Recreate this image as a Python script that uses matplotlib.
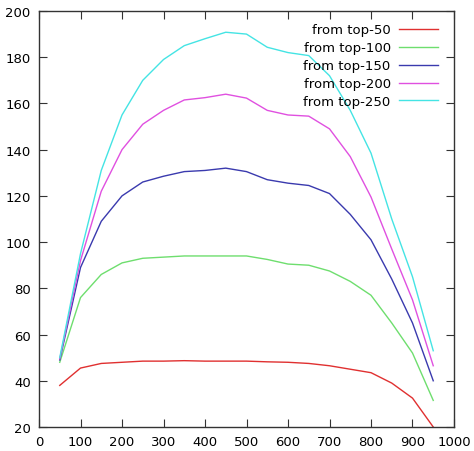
import matplotlib
matplotlib.use("Agg")
import matplotlib.pyplot as plt

x = [50, 100, 150, 200, 250, 300, 350, 400, 450, 500,
     550, 600, 650, 700, 750, 800, 850, 900, 950]

top50 = [38, 45.5, 47.5, 48, 48.5, 48.5, 48.7, 48.5, 48.5, 48.5,
         48.2, 48, 47.5, 46.5, 45, 43.5, 39, 32.5, 20]
top100 = [48, 76, 86, 91, 93, 93.5, 94, 94, 94, 94,
          92.5, 90.5, 90, 87.5, 83, 77, 65, 52, 31.5]
top150 = [49, 89, 109, 120, 126, 128.5, 130.5, 131, 132, 130.5,
          127, 125.5, 124.5, 121, 112, 101, 84, 65, 40]
top200 = [49.5, 92, 122, 140, 151, 157, 161.5, 162.5, 164, 162.3,
          157, 155, 154.5, 149, 137, 119.5, 97, 75, 46.5]
top250 = [50, 95, 131, 155, 170, 179, 185, 188, 190.8, 190,
          184.3, 182, 180.7, 172, 157, 138.5, 110, 85, 53]

series = [("from top-50", top50, "#e03030"),
          ("from top-100", top100, "#6ede6e"),
          ("from top-150", top150, "#3a3aae"),
          ("from top-200", top200, "#e050e0"),
          ("from top-250", top250, "#44e4e4")]

fig = plt.figure(figsize=(4.74, 4.52), dpi=100)
ax = fig.add_axes([0.0823, 0.0531, 0.8755, 0.9204])

for label, vals, col in series:
    ax.plot(x, vals, color=col, lw=1.0, label=label)

ax.set_xlim(0, 1000)
ax.set_ylim(20, 200)
ax.set_xticks(range(0, 1001, 100))
ax.set_yticks(range(20, 201, 20))
ax.tick_params(direction="in", length=6, width=0.8, top=True, right=True,
               labelsize=9.5, colors="#333333", labelcolor="black", pad=6)
for s in ax.spines.values():
    s.set_color("#333333")
    s.set_linewidth(1.0)

# legend sits a little higher than default padding allows
ax.legend(loc="upper right", bbox_to_anchor=(1.0, 1.008), frameon=False,
          markerfirst=False, fontsize=9.5, handlelength=3.0,
          handletextpad=0.6, labelspacing=0.37, borderaxespad=0.8)

fig.savefig("out.png", dpi=100)
